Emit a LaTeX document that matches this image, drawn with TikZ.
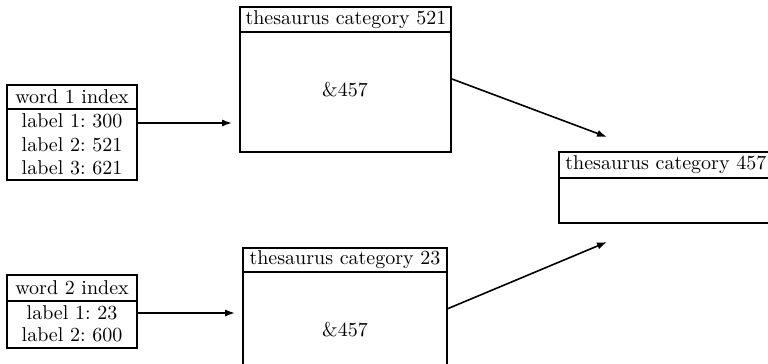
\documentclass[tikz,border=0pt]{standalone}
\usetikzlibrary{fit,arrows.meta}
\begin{document}
\begin{tikzpicture}[x=0.5pt,y=-0.5pt,
  box/.style={draw,line width=0.9pt,inner sep=0pt},
  sep/.style={line width=0.9pt},
  txt/.style={inner sep=0pt,font=\normalsize},
  arr/.style={line width=0.8pt,-{Latex[length=5pt,width=3.6pt]}}]
\useasboundingbox (0,0) rectangle (768,364);
% word 1 index
\node[box,fit={(7,85) (137,180)}] (w1) {};
\draw[sep] (7,109) -- (137,109);
\node[txt] (w1h) at (72,97) {word 1 index};
\node[txt] (w1a) at (72,121) {label 1:\ 300};
\node[txt] (w1b) at (72,145) {label 2:\ 521};
\node[txt] (w1c) at (72,168) {label 3:\ 621};
% word 2 index
\node[box,fit={(7,275) (137,348)}] (w2) {};
\draw[sep] (7,301) -- (137,301);
\node[txt] (w2h) at (72,288) {word 2 index};
\node[txt] (w2a) at (72,313) {label 1:\ 23};
\node[txt] (w2b) at (72,335) {label 2:\ 600};
% category 521
\node[box,fit={(240,7) (451,152)}] (c521) {};
\draw[sep] (240,32) -- (451,32);
\node[txt] (c521h) at (346,20) {thesaurus category 521};
\node[txt] (c521b) at (345,90) {\&457};
% category 23
\node[box,fit={(243,248) (447,380)}] (c23) {};
\draw[sep] (243,272) -- (447,272);
\node[txt] (c23h) at (345,260) {thesaurus category 23};
\node[txt] (c23b) at (345,330) {\&457};
% category 457
\node[box,fit={(559,152) (780,223)}] (c457) {};
\draw[sep] (559,178) -- (780,178);
\node[txt,anchor=west] (c457h) at (565,165) {thesaurus category 457};
% connector end points
\coordinate (a1s) at (137,123);
\coordinate (a1e) at (232,123);
\coordinate (a2s) at (137,313);
\coordinate (a2e) at (235,313);
\coordinate (a3s) at (452,79);
\coordinate (a3e) at (607,137);
\coordinate (a4s) at (447,309);
\coordinate (a4e) at (607,242);
\draw[arr] (a1s) -- (a1e);
\draw[arr] (a2s) -- (a2e);
\draw[arr] (a3s) -- (a3e);
\draw[arr] (a4s) -- (a4e);
\end{tikzpicture}
\end{document}
